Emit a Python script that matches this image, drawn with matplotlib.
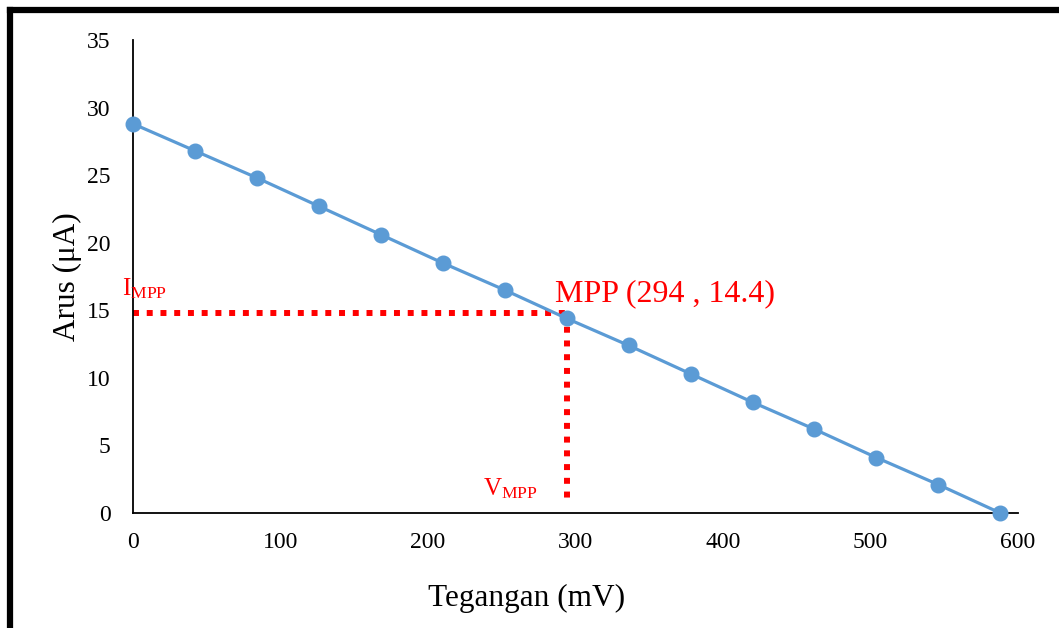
import matplotlib
matplotlib.use("Agg")
import matplotlib.pyplot as plt
from matplotlib.lines import Line2D

# data
tegangan = [0, 42, 84, 126, 168, 210, 252, 294, 336, 378, 420, 462, 504, 546, 588]
arus = [28.8, 26.8, 24.8, 22.7, 20.6, 18.5, 16.5, 14.4, 12.4, 10.3, 8.2, 6.2, 4.1, 2.1, 0.0]
mpp_v, mpp_i = 294, 14.8
vmpp_bottom = 0.75
x_ticks = [0, 100, 200, 300, 400, 500, 600]
y_ticks = [0, 5, 10, 15, 20, 25, 30, 35]

plt.rcParams["font.family"] = ["Liberation Serif", "DejaVu Serif"]
plt.rcParams["mathtext.fontset"] = "custom"
plt.rcParams["mathtext.rm"] = "Liberation Serif"

fig = plt.figure(figsize=(10.59, 6.28), dpi=100)
ax = fig.add_axes([0.1256, 0.1831, 0.9613 - 0.1256, 0.9363 - 0.1831])

# MPP guide lines
red = "#ff0000"
ax.plot([0, mpp_v], [mpp_i, mpp_i], color=red, lw=4.3, dashes=(1, 1.3),
        dash_capstyle="butt", zorder=2)
ax.plot([mpp_v, mpp_v], [mpp_i, vmpp_bottom], color=red, lw=4.3, dashes=(1, 1.3),
        dash_capstyle="butt", zorder=2)

ax.plot(tegangan, arus, color="#5b9bd5", lw=2.3, marker="o", markersize=10.5,
        zorder=3, clip_on=False)

ax.text(-7.5, 16.1, r"$\mathregular{I_{MPP}}$", color=red, fontsize=18,
        ha="left", va="baseline")
ax.text(237, 1.3, r"$\mathregular{V_{MPP}}$", color=red, fontsize=18,
        ha="left", va="baseline")
ax.text(286, 15.7, "MPP (294 , 14.4)", color=red, fontsize=23,
        ha="left", va="baseline")

ax.set_xlim(0, 600)
ax.set_ylim(0, 35)
ax.set_xticks(x_ticks)
ax.set_yticks(y_ticks)
ax.tick_params(length=0, labelsize=17)
ax.tick_params(axis="x", pad=14)
ax.tick_params(axis="y", pad=16)
for side in ["top", "right"]:
    ax.spines[side].set_visible(False)
for side in ["left", "bottom"]:
    ax.spines[side].set_linewidth(1.3)
    ax.spines[side].set_color("black")

ax.set_xlabel("Tegangan (mV)", fontsize=22.5)
ax.xaxis.set_label_coords(0.445, -0.18)
ax.xaxis.label.set_va("center")
ax.set_ylabel("Arus (μA)", fontsize=22.5, labelpad=4)

# thick frame around the picture (only left and top edges visible)
fig.add_artist(Line2D([10 / 1059, 10 / 1059], [0, 1 - 10 / 628],
                      transform=fig.transFigure, color="black", lw=4.5,
                      solid_capstyle="projecting"))
fig.add_artist(Line2D([10 / 1059, 1], [1 - 10 / 628, 1 - 10 / 628],
                      transform=fig.transFigure, color="black", lw=4.5,
                      solid_capstyle="projecting"))

fig.savefig("out.png", dpi=100)
